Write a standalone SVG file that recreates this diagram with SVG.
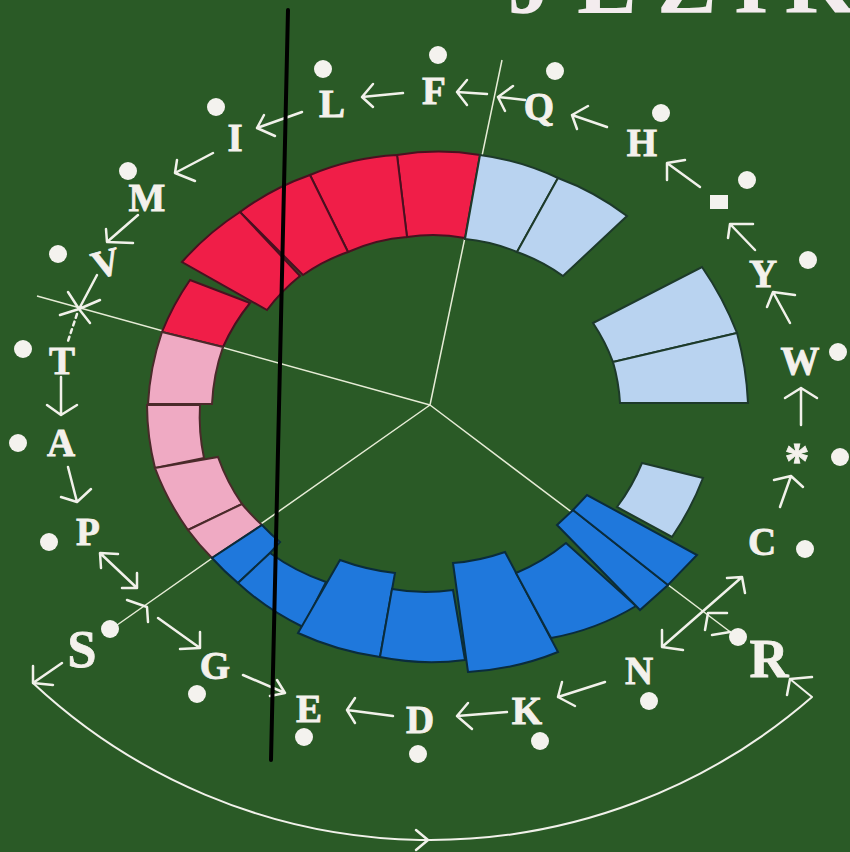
<svg xmlns="http://www.w3.org/2000/svg" width="850" height="852" viewBox="0 0 850 852">
<style>
.lbl{font-family:"Liberation Serif",serif;font-weight:bold;font-size:39px;fill:#f4f1ec;stroke:#f4f1ec;stroke-width:0.8;text-anchor:middle}
.ttl{font-family:"Liberation Serif",serif;font-weight:bold;font-size:90px;fill:#f3ecee;text-anchor:middle}
.arr{stroke:#f1f1ea;stroke-width:2.5;fill:none;stroke-linecap:round;stroke-linejoin:round}
.rad{stroke:#e6ecd6;stroke-width:1.5;fill:none}
.dot{fill:#f4f2ee}
.red{fill:#f01e48;stroke:#4a1020;stroke-width:2}
.pink{fill:#efaac3;stroke:#4a2a2a;stroke-width:2}
.lb{fill:#b9d3f0;stroke:#1d3a2a;stroke-width:2}
.blue{fill:#1f78dc;stroke:#0a2c3c;stroke-width:2}
</style>
<rect x="0" y="0" width="850" height="852" fill="#2a5a26"/>
<text class="ttl"><tspan x="530" y="13">J</tspan><tspan x="607" y="13">E</tspan><tspan x="687" y="13">Z</tspan><tspan x="751" y="13">I</tspan><tspan x="820" y="13">K</tspan></text>
<g id="radials">
<path class="rad" d="M430,405 L502,60 M430,405 L37,296 M430,405 L110,630 M430,405 L737,637"/>
</g>
<g id="ring">
<path id="segA" class="red" d="M397,155 A256,256 0 0 1 480,155 L465,238 A172,172 0 0 0 407,237 Z"/>
<path id="segB" class="red" d="M310,175 A258,258 0 0 1 397,155 L407,237 A175,175 0 0 0 348,252 Z"/>
<path id="segC" class="red" d="M240,212 A265,265 0 0 1 310,175 L348,252 A180,180 0 0 0 303,275 Z"/>
<path id="segE" class="red" d="M162,332 A265,265 0 0 1 190,280 L250,303 A200,200 0 0 0 223,347 Z"/>
<path id="segD" class="red" d="M182,262 A280,280 0 0 1 240,212 L300,276 A187,187 0 0 0 267,310 Z"/>
<path id="segF" class="pink" d="M148,404 A265,265 0 0 1 162,332 L223,347 A200,200 0 0 0 212,404 Z"/>
<path id="segG" class="pink" d="M155,468 A265,265 0 0 1 147,405 L200,405 A200,200 0 0 0 204,458 Z"/>
<path id="segH" class="pink" d="M188,530 A265,265 0 0 1 155,468 L218,457 A200,200 0 0 0 242,504 Z"/>
<path id="segI" class="pink" d="M212,558 A265,265 0 0 1 188,530 L242,504 A200,200 0 0 0 262,525 Z"/>
<path id="segJ" class="blue" d="M238,583 A265,265 0 0 1 212,558 L262,525 A205,205 0 0 0 280,542 L270,553 Z"/>
<path id="segK" class="blue" d="M303,627 A265,265 0 0 1 238,583 L270,553 A210,210 0 0 0 326,582 Z"/>
<path id="segL" class="blue" d="M298,633 L340,560 A230,230 0 0 0 395,573 L380,657 A290,290 0 0 1 298,633 Z"/>
<path id="segM" class="blue" d="M392,589 A190,190 0 0 0 453,590 L465,660 A260,260 0 0 1 380,657 Z"/>
<path id="segN" class="blue" d="M453,563 A200,200 0 0 0 505,552 L558,652 A280,280 0 0 1 468,672 Z"/>
<path id="segO" class="blue" d="M516,573 A200,200 0 0 0 566,543 L636,606 A250,250 0 0 1 551,638 Z"/>
<path id="segR" class="lb" d="M617,507 A200,200 0 0 0 642,463 L703,478 A280,280 0 0 1 672,537 Z"/>
<path id="segP" class="blue" d="M557,525 L573,510 L668,585 L640,610 Z"/>
<path id="segQ" class="blue" d="M573,510 L587,495 L697,555 L668,585 Z"/>
<path id="segLB1" class="lb" d="M480,155 A265,265 0 0 1 558,178 L517,252 A180,180 0 0 0 465,239 Z"/>
<path id="segLB2" class="lb" d="M558,178 A265,265 0 0 1 627,216 L563,276 A180,180 0 0 0 517,252 Z"/>
<path id="segLB3" class="lb" d="M593,323 L702,267 A320,320 0 0 1 737,333 L613,362 A188,188 0 0 0 593,323 Z"/>
<path id="segLB4" class="lb" d="M613,362 L737,333 A318,318 0 0 1 748,403 L620,403 A188,188 0 0 0 613,362 Z"/>
</g>
<g id="dots">
<circle class="dot" cx="438" cy="55" r="9"/><circle class="dot" cx="323" cy="69" r="9"/><circle class="dot" cx="555" cy="71" r="9"/>
<circle class="dot" cx="216" cy="107" r="9"/><circle class="dot" cx="661" cy="113" r="9"/><circle class="dot" cx="128" cy="171" r="9"/>
<circle class="dot" cx="747" cy="180" r="9"/><circle class="dot" cx="58" cy="254" r="9"/><circle class="dot" cx="808" cy="260" r="9"/>
<circle class="dot" cx="23" cy="349" r="9"/><circle class="dot" cx="838" cy="352" r="9"/><circle class="dot" cx="18" cy="443" r="9"/>
<circle class="dot" cx="840" cy="457" r="9"/><circle class="dot" cx="49" cy="542" r="9"/><circle class="dot" cx="805" cy="549" r="9"/>
<circle class="dot" cx="110" cy="629" r="9"/><circle class="dot" cx="738" cy="637" r="9"/><circle class="dot" cx="197" cy="694" r="9"/>
<circle class="dot" cx="649" cy="701" r="9"/><circle class="dot" cx="304" cy="737" r="9"/><circle class="dot" cx="540" cy="741" r="9"/>
<circle class="dot" cx="418" cy="754" r="9"/>
<rect x="710" y="195" width="18" height="14" fill="#f4f2ee"/>
</g>
<g id="labels">
<text class="lbl" x="434" y="104">F</text>
<text class="lbl" x="332" y="117">L</text>
<text class="lbl" x="235" y="151">I</text>
<text class="lbl" x="147" y="211">M</text>
<text class="lbl" x="106" y="276" transform="rotate(-15 106 263)">V</text>
<text class="lbl" x="539" y="120">Q</text>
<text class="lbl" x="642" y="156">H</text>
<text class="lbl" x="763" y="287">Y</text>
<text class="lbl" x="800" y="374">W</text>
<text class="lbl" x="797" y="477" style="font-size:50px">*</text>
<text class="lbl" x="762" y="555">C</text>
<text class="lbl" x="769" y="677" style="font-size:54px">R</text>
<text class="lbl" x="639" y="684">N</text>
<text class="lbl" x="527" y="724">K</text>
<text class="lbl" x="420" y="733">D</text>
<text class="lbl" x="309" y="722">E</text>
<text class="lbl" x="215" y="679">G</text>
<text class="lbl" x="82" y="667" style="font-size:52px">S</text>
<text class="lbl" x="88" y="545">P</text>
<text class="lbl" x="61" y="456">A</text>
<text class="lbl" x="62" y="374">T</text>
</g>
<g id="connectors">
<path class="arr" d="M487,94 L457,92 M467,80 L457,92 L467,105"/>
<path class="arr" d="M525,100 L498,97 M513,86 L498,97 L505,111"/>
<path class="arr" d="M607,127 L572,115 M588,106 L572,115 L577,129"/>
<path class="arr" d="M700,187 L667,163 M685,160 L667,163 L667,180"/>
<path class="arr" d="M755,250 L730,224 M753,224 L730,224 L728,238"/>
<path class="arr" d="M790,323 L773,292 M795,295 L773,292 L767,307"/>
<path class="arr" d="M801,425 L801,388 M785,398 L801,388 L817,398"/>
<path class="arr" d="M780,507 L791,476 M774,480 L791,476 L803,487"/>
<path class="arr" d="M403,93 L362,97 M373,84 L362,97 L373,107"/>
<path class="arr" d="M302,112 L257,128 M264,115 L257,128 L275,136"/>
<path class="arr" d="M213,153 L175,173 M177,160 L175,173 L195,181"/>
<path class="arr" d="M138,215 L107,242 M106,229 L107,242 L133,243"/>
<path class="arr" d="M97,275 L79,309 M68,292 L79,309 L100,300"/>
<path class="arr" d="M60,315 L79,309 L90,323"/>
<path class="arr" d="M77,314 L68,341" stroke-dasharray="4 4"/>
<path class="arr" d="M61,377 L61,415 M47,405 L61,415 L77,405"/>
<path class="arr" d="M68,467 L77,502 M61,497 L77,502 L91,489"/>
<path class="arr" d="M100,553 L137,588 M101,568 L100,553 L118,554 M122,588 L137,588 L137,573"/>
<path class="arr" d="M127,600 L147,607 L148,622"/>
<path class="arr" d="M158,618 L200,648 M180,649 L200,648 L200,632"/>
<path class="arr" d="M243,675 L285,693 M277,680 L285,693 L270,696"/>
<path class="arr" d="M393,716 L347,710 M355,698 L347,710 L355,723"/>
<path class="arr" d="M507,712 L457,716 M468,703 L457,716 L472,729"/>
<path class="arr" d="M605,682 L558,697 M562,682 L558,697 L575,706"/>
<path class="arr" d="M662,647 L742,577 M662,630 L662,647 L683,650 M727,578 L742,577 L745,593"/>
<path class="arr" d="M727,613 L708,613 L705,630 M712,635 L730,632"/>
<path class="arr" d="M62,663 L33,683 M33,666 L33,683 L53,685"/>
<path class="arr" style="stroke-width:2" d="M33,683 A581,581 0 0 0 812,697 L790,679"/>
<path class="arr" d="M787,695 L790,679 L812,677"/>
<path class="arr" d="M416,830 L428,840 L416,850"/>
</g>
<line x1="288" y1="10" x2="271" y2="760" stroke="#000" stroke-width="4" stroke-linecap="round"/>
</svg>
